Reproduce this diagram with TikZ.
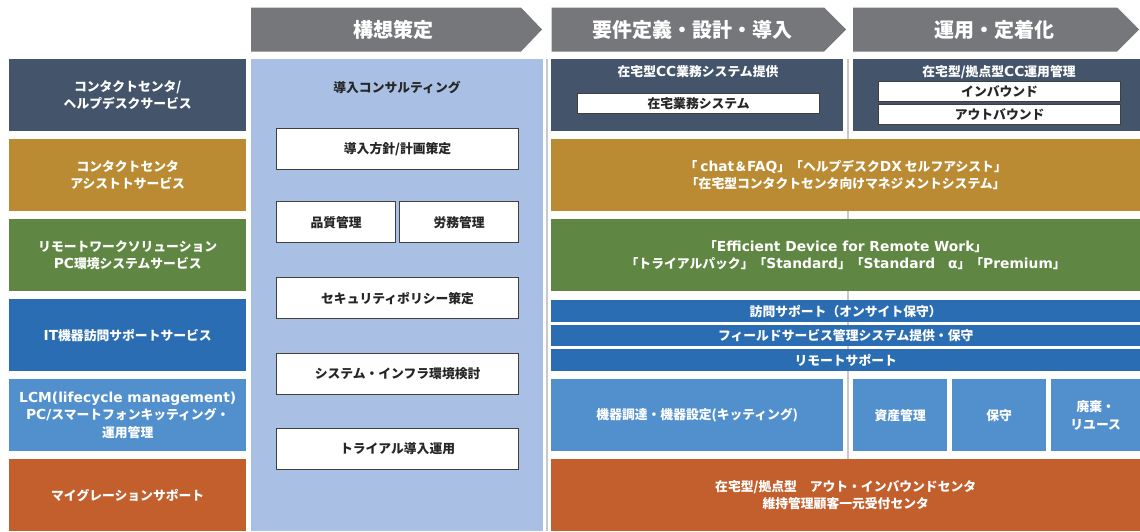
\documentclass[tikz,border=0pt]{standalone}
\usepackage{fontspec}
\setmainfont{Noto Sans CJK JP}
\newfontfamily\latfont{DejaVu Sans}[Scale=1.08]
\newcommand\lt[1]{{\latfont\bfseries #1}}
\definecolor{hdr}{HTML}{76777B}
\definecolor{slate}{HTML}{44546A}
\definecolor{gold}{HTML}{BA8B33}
\definecolor{grn}{HTML}{5F8642}
\definecolor{blu}{HTML}{2A6DB2}
\definecolor{lblu}{HTML}{5290CD}
\definecolor{orng}{HTML}{C35E2D}
\definecolor{colbg}{HTML}{A9C0E4}
\definecolor{sepc}{HTML}{C9C9C9}
\definecolor{bord}{HTML}{3F3F3F}
\definecolor{txt}{HTML}{262626}
\begin{document}
\begin{tikzpicture}[x=1pt,y=-1pt,
  cell/.style={anchor=north west, inner sep=0pt, draw=none, text=white,
    font=\bfseries\fontsize{12.8}{17.5}\selectfont, align=center},
  wbox/.style={anchor=north west, inner sep=0pt, fill=white, draw=bord,
    line width=1.2pt, text=txt, font=\bfseries\fontsize{12.8}{17.5}\selectfont, align=center},
  ctext/.style={inner sep=0pt, text=white, font=\bfseries\fontsize{12.8}{17.5}\selectfont, align=center},
  dtext/.style={inner sep=0pt, text=txt, font=\bfseries\fontsize{12.8}{17.5}\selectfont, align=center},
  htext/.style={inner sep=0pt, text=white, font=\bfseries\fontsize{20}{22}\selectfont},
  hdrshape/.style={fill=hdr},
  sepline/.style={draw=sepc, line width=1.3pt}
]
\path[use as bounding box] (0,0) rectangle (1140,531);

% headers
\fill[hdrshape] (251,7.5) -- (521,7.5) -- (542,29.5) -- (521,51.5) -- (251,51.5) -- cycle;
\node[htext] (h1) at (393,29.5) {構想策定};
\fill[hdrshape] (551.5,7.5) -- (824,7.5) -- (846,29.5) -- (824,51.5) -- (551.5,51.5) -- cycle;
\node[htext] (h2) at (692,29.5) {要件定義・設計・導入};
\fill[hdrshape] (853,7.5) -- (1117,7.5) -- (1139,29.5) -- (1117,51.5) -- (853,51.5) -- cycle;
\node[htext] (h3) at (994,29.5) {運用・定着化};

% separators
\draw[sepline] (547,59) -- (547,531);
\draw[sepline] (848,59) -- (848,531);

% left column
\node[cell, fill=slate, minimum width=237pt, minimum height=72pt] (l1) at (9,59) {コンタクトセンタ/\\ヘルプデスクサービス};
\node[cell, fill=gold, minimum width=237pt, minimum height=72pt] (l2) at (9,139) {コンタクトセンタ\\アシストトサービス};
\node[cell, fill=grn, minimum width=237pt, minimum height=72pt] (l3) at (9,219) {リモートワークソリューション\\\lt{PC}環境システムサービス};
\node[cell, fill=blu, minimum width=237pt, minimum height=72pt] (l4) at (9,299) {\lt{IT}機器訪問サポートサービス};
\node[cell, fill=lblu, minimum width=237pt, minimum height=72pt] (l5) at (9,379) {\lt{LCM(lifecycle management)}\\\lt{PC/}スマートフォンキッティング・\\運用管理};
\node[cell, fill=orng, minimum width=237pt, minimum height=72pt] (l6) at (9,459) {マイグレーションサポート};

% middle column
\node[anchor=north west, inner sep=0pt, fill=colbg, minimum width=292pt, minimum height=472pt] (mid) at (251,59) {};
\node[dtext] (consult) at (397,88) {導入コンサルティング};
\node[wbox, minimum width=242pt, minimum height=41pt] (m1) at (276,128) {導入方針/計画策定};
\node[wbox, minimum width=119pt, minimum height=41pt] (m2a) at (276,201) {品質管理};
\node[wbox, minimum width=119pt, minimum height=41pt] (m2b) at (399,201) {労務管理};
\node[wbox, minimum width=242pt, minimum height=41pt] (m3) at (276,277) {セキュリティポリシー策定};
\node[wbox, minimum width=242pt, minimum height=41pt] (m4) at (276,353) {システム・インフラ環境検討};
\node[wbox, minimum width=242pt, minimum height=41pt] (m5) at (276,428) {トライアル導入運用};

% right: row 1
\node[cell, fill=slate, minimum width=292pt, minimum height=72pt] (r1a) at (551,59) {};
\node[ctext] (r1at) at (698,72) {在宅型\lt{CC}業務システム提供};
\node[wbox, minimum width=242pt, minimum height=20pt] (r1ab) at (577,93) {在宅業務システム};
\node[cell, fill=slate, minimum width=287pt, minimum height=72pt] (r1b) at (853,59) {};
\node[ctext] (r1bt) at (999,72) {在宅型/拠点型\lt{CC}運用管理};
\node[wbox, minimum width=242pt, minimum height=20pt] (r1bin) at (878,81) {インバウンド};
\node[wbox, minimum width=242pt, minimum height=20pt] (r1bout) at (878,104) {アウトバウンド};

% row 2, 3
\node[cell, fill=gold, minimum width=589pt, minimum height=72pt] (r2) at (551,139) {「 \lt{chat}＆\lt{FAQ}」「ヘルプデスク\lt{DX} セルフアシスト」\\「在宅型コンタクトセンタ向けマネジメントシステム」};
\node[cell, fill=grn, minimum width=589pt, minimum height=72pt] (r3) at (551,219) {「\lt{Efficient Device for Remote Work}」\\「トライアルパック」「\lt{Standard}」「\lt{Standard}　\lt{α}」「\lt{Premium}」};

% row 4
\node[cell, fill=blu, minimum width=589pt, minimum height=22pt] (r4a) at (551,300) {訪問サポート（オンサイト保守）};
\node[cell, fill=blu, minimum width=589pt, minimum height=21.5pt] (r4b) at (551,324.5) {フィールドサービス管理システム提供・保守};
\node[cell, fill=blu, minimum width=589pt, minimum height=22pt] (r4c) at (551,349) {リモートサポート};

% row 5
\node[cell, fill=lblu, minimum width=292pt, minimum height=72pt] (r5a) at (551,379) {機器調達・機器設定(キッティング)};
\node[cell, fill=lblu, minimum width=94pt, minimum height=72pt] (r5b) at (853,379) {資産管理};
\node[cell, fill=lblu, minimum width=94pt, minimum height=72pt] (r5c) at (952,379) {保守};
\node[cell, fill=lblu, minimum width=89pt, minimum height=72pt] (r5d) at (1051,379) {廃棄・\\リユース};

% row 6
\node[cell, fill=orng, minimum width=589pt, minimum height=72pt] (r6) at (551,459) {在宅型/拠点型　アウト・インバウンドセンタ\\維持管理顧客一元受付センタ};
\end{tikzpicture}
\end{document}
